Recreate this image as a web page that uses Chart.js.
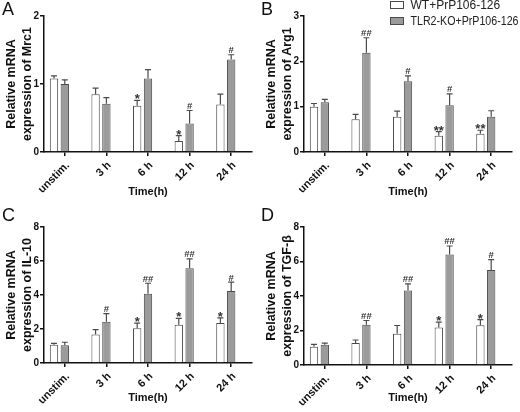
<!DOCTYPE html>
<html><head><meta charset="utf-8">
<script src="https://cdn.jsdelivr.net/npm/chart.js@4/dist/chart.umd.min.js"></script>
<style>
html,body{margin:0;padding:0;background:#fff;}
#wrap{position:relative;width:520px;height:412px;}
canvas{position:absolute;}
</style></head><body>
<div id="wrap">
<canvas id="cA" width="260" height="206" style="left:0;top:0"></canvas>
<canvas id="cB" width="260" height="206" style="left:260px;top:0"></canvas>
<canvas id="cC" width="260" height="206" style="left:0;top:206px"></canvas>
<canvas id="cD" width="260" height="206" style="left:260px;top:206px"></canvas>
</div>
<script>
const categories = ['unstim.', '3 h', '6 h', '12 h', '24 h'];
const seriesNames = ['WT+PrP106-126', 'TLR2-KO+PrP106-126'];

const mrc1WT = [1.08, 0.85, 0.68, 0.16, 0.70];
const mrc1WTErr = [0.04, 0.09, 0.08, 0.08, 0.15];
const mrc1KO = [1.00, 0.71, 1.08, 0.42, 1.36];
const mrc1KOErr = [0.06, 0.09, 0.13, 0.19, 0.07];
const mrc1WTSig = ['', '', '*', '*', ''];
const mrc1KOSig = ['', '', '', '#', '#'];

const arg1WT = [1.00, 0.72, 0.78, 0.36, 0.40];
const arg1WTErr = [0.07, 0.11, 0.12, 0.09, 0.08];
const arg1KO = [1.10, 2.19, 1.56, 1.03, 0.78];
const arg1KOErr = [0.06, 0.33, 0.12, 0.25, 0.13];
const arg1WTSig = ['', '', '', '**', '**'];
const arg1KOSig = ['', '##', '#', '#', ''];

const il10WT = [1.08, 1.67, 2.04, 2.25, 2.35];
const il10WTErr = [0.08, 0.29, 0.31, 0.38, 0.30];
const il10KO = [1.04, 2.43, 4.08, 5.57, 4.24];
const il10KOErr = [0.18, 0.47, 0.61, 0.55, 0.52];
const il10WTSig = ['', '', '*', '*', '*'];
const il10KOSig = ['', '#', '##', '##', '#'];

const tgfWT = [1.06, 1.27, 1.81, 2.18, 2.31];
const tgfWTErr = [0.13, 0.18, 0.48, 0.31, 0.32];
const tgfKO = [1.18, 2.33, 4.32, 6.40, 5.51];
const tgfKOErr = [0.09, 0.25, 0.38, 0.50, 0.60];
const tgfWTSig = ['', '', '', '*', '*'];
const tgfKOSig = ['', '##', '##', '##', '#'];

const FONT = '"Liberation Sans", Arial, Helvetica, sans-serif';
const WHITE = '#ffffff';
const GRAY = '#9b9b9b';
const EDGE = '#4a4a4a';

const errorPlugin = {
  id: 'errbars',
  afterDatasetsDraw(chart) {
    const ctx = chart.ctx;
    const ys = chart.scales.y;
    chart.data.datasets.forEach((ds, i) => {
      if (!ds.err) return;
      const meta = chart.getDatasetMeta(i);
      meta.data.forEach((el, j) => {
        const v = ds.data[j], e = ds.err[j];
        const yTop = ys.getPixelForValue(v);
        const yErr = ys.getPixelForValue(v + e);
        ctx.save();
        ctx.strokeStyle = EDGE;
        ctx.lineWidth = 1.2;
        ctx.beginPath();
        ctx.moveTo(el.x, yTop);
        ctx.lineTo(el.x, yErr);
        ctx.moveTo(el.x - 3, yErr);
        ctx.lineTo(el.x + 3, yErr);
        ctx.stroke();
        const s = ds.sig[j];
        if (s) {
          const star = s.startsWith('*');
          ctx.fillStyle = '#333';
          ctx.font = (star ? 'bold 13px ' : 'bold 9.5px ') + FONT;
          ctx.textAlign = 'center';
          ctx.textBaseline = 'alphabetic';
          ctx.fillText(s, el.x, yErr + (star ? 3 : -1.5));
        }
        ctx.restore();
      });
    });
  }
};

const letterPlugin = {
  id: 'panelLetter',
  afterDraw(chart, args, opts) {
    const ctx = chart.ctx;
    ctx.save();
    ctx.fillStyle = '#111';
    ctx.font = '18px ' + FONT;
    ctx.textAlign = 'left';
    ctx.textBaseline = 'top';
    ctx.fillText(opts.text || '', opts.x || 1, 1);
    ctx.restore();
  }
};

const legendPlugin = {
  id: 'boxLegend',
  afterDraw(chart, args, opts) {
    if (!opts.show) return;
    const ctx = chart.ctx;
    ctx.save();
    chart.data.datasets.forEach((ds, i) => {
      if (!ds.err) return;
      const y = 5 + i * 16;
      ctx.fillStyle = ds.backgroundColor;
      ctx.strokeStyle = EDGE;
      ctx.lineWidth = 1;
      ctx.fillRect(130.5, y - 3.5, 13, 7);
      ctx.strokeRect(130.5, y - 3.5, 13, 7);
      ctx.fillStyle = '#222';
      ctx.font = '12px ' + FONT;
      ctx.textAlign = 'left';
      ctx.textBaseline = 'middle';
      ctx.fillText(ds.label, 150.5, y + 0.5, 108);
    });
    ctx.restore();
  }
};

function makeChart(id, letter, letterX, wt, wtErr, wtSig, ko, koErr, koSig, yMax, yStep, title, topPad, bottomH, legend) {
  const barOpts = { categoryPercentage: 0.78, barPercentage: 0.77, borderColor: EDGE, borderWidth: 1 };
  return new Chart(document.getElementById(id), {
    type: 'bar',
    data: {
      labels: categories,
      datasets: [
        Object.assign({ label: seriesNames[0], data: wt, err: wtErr, sig: wtSig, backgroundColor: WHITE }, barOpts),
        Object.assign({ label: seriesNames[1], data: ko, err: koErr, sig: koSig, backgroundColor: GRAY }, barOpts),
        Object.assign({ label: '', data: categories.map(() => null), backgroundColor: 'rgba(0,0,0,0)' }, barOpts, { borderWidth: 0 })
      ]
    },
    options: {
      responsive: false,
      animation: false,
      devicePixelRatio: 1,
      layout: { padding: { top: topPad, right: 8, left: 0, bottom: 0 } },
      plugins: {
        legend: { display: false },
        tooltip: { enabled: false },
        panelLetter: { text: letter, x: letterX },
        boxLegend: { show: legend }
      },
      scales: {
        x: {
          grid: { display: true, drawOnChartArea: false, offset: false, tickLength: 4, color: '#111', lineWidth: 1.5 },
          border: { display: true, color: '#111', width: 1.5 },
          ticks: { color: '#111', font: { family: FONT, size: 11, weight: 'bold' }, minRotation: 45, maxRotation: 45, padding: 3, labelOffset: 3 },
          title: { display: true, text: 'Time(h)', color: '#111', font: { family: FONT, size: 11, weight: 'bold' }, padding: { top: 0, bottom: 7 } },
          afterFit(s) { s.height = bottomH; }
        },
        y: {
          min: 0, max: yMax,
          grid: { display: true, drawOnChartArea: false, tickLength: 4, color: '#111', lineWidth: 1.5 },
          border: { display: true, color: '#111', width: 1.5 },
          ticks: { stepSize: yStep, color: '#111', font: { family: FONT, size: 10, weight: 'bold' }, padding: 1 },
          title: { display: true, text: title, color: '#111', font: { family: FONT, size: 12.5, weight: 'bold', lineHeight: 1.3 }, padding: { top: 3, bottom: 0 } },
          afterFit(s) { s.width = 44; }
        }
      }
    },
    plugins: [errorPlugin, letterPlugin, legendPlugin]
  });
}

makeChart('cA', 'A', 2, mrc1WT, mrc1WTErr, mrc1WTSig, mrc1KO, mrc1KOErr, mrc1KOSig, 2, 1, ['Relative mRNA', 'expression of Mrc1'], 16, 54, false);
makeChart('cB', 'B', 0, arg1WT, arg1WTErr, arg1WTSig, arg1KO, arg1KOErr, arg1KOSig, 3, 1, ['Relative mRNA', 'expression of Arg1'], 16, 54, true);
makeChart('cC', 'C', 2, il10WT, il10WTErr, il10WTSig, il10KO, il10KOErr, il10KOSig, 8, 2, ['Relative mRNA', 'expression of IL-10'], 21, 49, false);
makeChart('cD', 'D', 0, tgfWT, tgfWTErr, tgfWTSig, tgfKO, tgfKOErr, tgfKOSig, 8, 2, ['Relative mRNA', 'expression of TGF-β'], 21, 47, false);
</script>
</body></html>
